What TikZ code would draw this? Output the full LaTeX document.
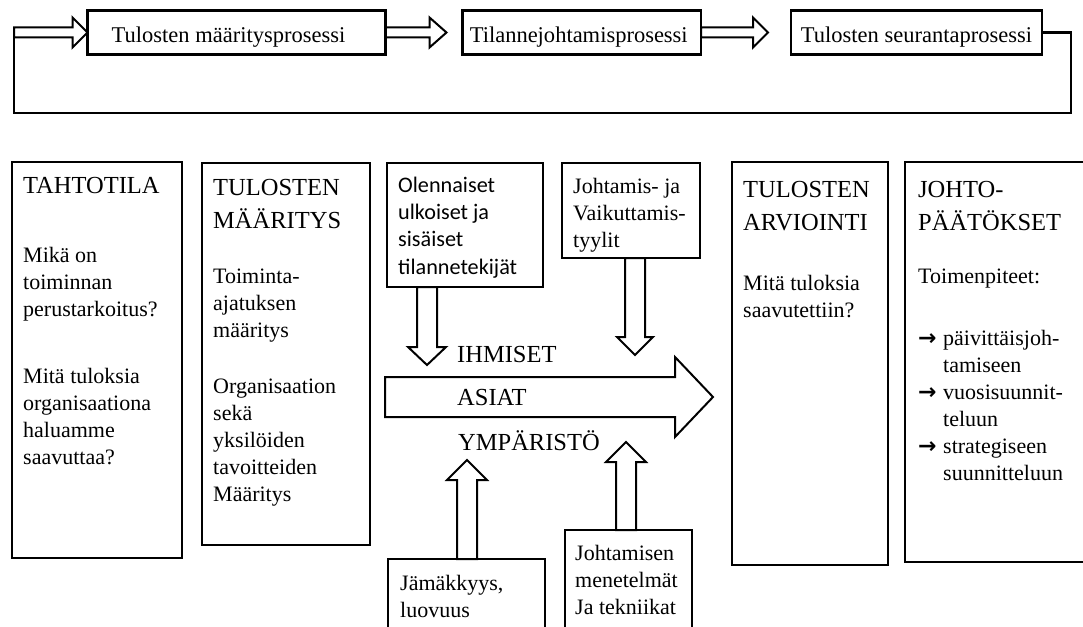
\documentclass[tikz,border=0pt]{standalone}
\usepackage{fontspec}
\setmainfont{Liberation Serif}
\newfontfamily\calib{Carlito}
\newfontfamily\arrfont{DejaVu Sans}
\usepackage{tikz}
\usetikzlibrary{positioning, calc}

\newcommand{\txtfont}{\fontsize{22}{27}\selectfont}
\newcommand{\hdfont}{\fontsize{24.5}{33.5}\selectfont}
\newcommand{\topfont}{\fontsize{22.5}{26}\selectfont}
\newcommand{\olfont}{\calib\fontsize{22.2}{27.4}\selectfont}
\newcommand{\txtlines}[1]{\parbox[t]{200pt}{#1}}
\newcommand{\itm}{\makebox[25pt][l]{\arrfont\bfseries →}}

\begin{document}
\begin{tikzpicture}[x=1pt, y=-1pt,
  box/.style={draw, line width=2.6pt, outer sep=0pt, inner sep=0pt, anchor=north west},
  pbox/.style={box, minimum height=43.6, font=\topfont, text height=22pt, text depth=3pt},
  txt/.style={anchor=base west, inner sep=0pt, font=\txtfont},
  hd/.style={txt, font=\hdfont},
  fat/.style={draw, line width=2pt},
  loopline/.style={draw, line width=2.4pt},
  fatright/.style args={#1/#2/#3}{to path={
    ([shift={(0,-#1)}]\tikztostart) -- ([shift={(-#3,-#1)}]\tikztotarget)
    -- ([shift={(-#3,-#2)}]\tikztotarget) -- (\tikztotarget)
    -- ([shift={(-#3,#2)}]\tikztotarget) -- ([shift={(-#3,#1)}]\tikztotarget)
    -- ([shift={(0,#1)}]\tikztostart) -- cycle}},
  fatdown/.style args={#1/#2/#3}{to path={
    ([shift={(-#1,0)}]\tikztostart) -- ([shift={(-#1,-#3)}]\tikztotarget)
    -- ([shift={(-#2,-#3)}]\tikztotarget) -- (\tikztotarget)
    -- ([shift={(#2,-#3)}]\tikztotarget) -- ([shift={(#1,-#3)}]\tikztotarget)
    -- ([shift={(#1,0)}]\tikztostart) -- cycle}},
  fatup/.style args={#1/#2/#3}{to path={
    ([shift={(-#1,0)}]\tikztostart) -- ([shift={(-#1,#3)}]\tikztotarget)
    -- ([shift={(-#2,#3)}]\tikztotarget) -- (\tikztotarget)
    -- ([shift={(#2,#3)}]\tikztotarget) -- ([shift={(#1,#3)}]\tikztotarget)
    -- ([shift={(#1,0)}]\tikztostart) -- cycle}}]
\useasboundingbox (0,0) rectangle (1083,626);
\clip (0,0) rectangle (1083,626);

% process row
\node[pbox, minimum width=298] (maar) at (87.5,10.7) {Tulosten määritysprosessi\hspace*{16pt}};
\node[pbox, minimum width=238.5] (tila) at (462.5,10.7) {Tilannejohtamisprosessi\hspace*{6pt}};
\node[pbox, minimum width=251] (seur) at (791,10.7) {Tulosten seurantaprosessi};

\coordinate (g1) at ([xshift=-16pt]tila.west);
\coordinate (g2) at ([xshift=-23pt]seur.west);
\coordinate (loopr) at (1071,113);
\coordinate (loopl) at (14,113);
\coordinate (loopend) at (loopl |- maar.west);

\draw[loopline] (seur.east) -| (loopr) -- (loopl) -- (loopend);
\draw[fat] (loopend) to[fatright=5/15/15] (maar.west);
\draw[fat] (maar.east) to[fatright=5/15/17] (g1);
\draw[fat] (tila.east) to[fatright=5/15/15] (g2);

% columns
\node[box, minimum width=170, minimum height=396] (tahto) at (12,162) {};
\node[box, minimum width=168, minimum height=382] (tmaar) at (202,163) {};
\node[box, minimum width=156, minimum height=124] (olen) at (387,163) {};
\node[box, minimum width=138, minimum height=95] (johvai) at (562,163) {};
\node[box, minimum width=156, minimum height=403] (arvi) at (732,162) {};
\node[box, minimum width=210, minimum height=400] (johto) at (905,162) {};
\node[box, minimum width=157, minimum height=90] (jama) at (388,559) {};
\node[box, minimum width=127, minimum height=120] (johmen) at (565,530) {};

\node[hd] (tahtoh) at (23,193) {TAHTOTILA};
\node[txt] (tahto1) at (23,262) {\txtlines{Mikä on\\toiminnan\\perustarkoitus?}};
\node[txt] (tahto2) at (23,383) {\txtlines{Mitä tuloksia\\organisaationa\\haluamme\\saavuttaa?}};

\node[hd] (tmaarh) at (213,195) {\txtlines{TULOSTEN\\MÄÄRITYS}};
\node[txt] (tmaar1) at (213,283) {\txtlines{Toiminta-\\ajatuksen\\määritys}};
\node[txt] (tmaar2) at (213,393) {\txtlines{Organisaation\\sekä\\yksilöiden\\tavoitteiden\\Määritys}};

\node[txt, font=\olfont] (olent) at (398,192) {\txtlines{Olennaiset\\ulkoiset ja\\sisäiset\\tilannetekijät}};
\node[txt] (johvait) at (573,193) {\txtlines{Johtamis- ja\\Vaikuttamis-\\tyylit}};
\node[txt] (jamat) at (400,590) {\txtlines{Jämäkkyys,\\luovuus}};
\node[txt] (johment) at (575,560) {\txtlines{Johtamisen\\menetelmät\\Ja tekniikat}};

\node[hd] (ihm) at (457,362) {IHMISET};
\node[hd] (asi) at (457,405) {ASIAT};
\node[hd] (ymp) at (458,450) {YMPÄRISTÖ};

\node[hd] (arvih) at (743,197) {\txtlines{TULOSTEN\\ARVIOINTI}};
\node[txt] (arvi1) at (743,290) {\txtlines{Mitä tuloksia\\saavutettiin?}};

\node[hd] (johtoh) at (918,197) {\txtlines{JOHTO-\\PÄÄTÖKSET}};
\node[txt] (johto1) at (918,283) {Toimenpiteet:};
\node[txt] (johto2) at (918,345) {\txtlines{\itm päivittäisjoh-\\\hspace*{25pt}tamiseen\\\itm vuosisuunnit-\\\hspace*{25pt}teluun\\\itm strategiseen\\\hspace*{25pt}suunnitteluun}};

% block arrows
\coordinate (bigs) at (385,397);
\coordinate (bigt) at (713,397);
\draw[fat] (bigs) to[fatright=20/40/38] (bigt);

\coordinate (d1) at (427,365);
\coordinate (d1s) at (olen.south -| d1);
\draw[fat] (d1s) to[fatdown=10/19/18] (d1);
\coordinate (d2) at (635,355);
\coordinate (d2s) at (johvai.south -| d2);
\draw[fat] (d2s) to[fatdown=10/18/18] (d2);

\coordinate (u1) at (467,460);
\coordinate (u1s) at (jama.north -| u1);
\draw[fat] (u1s) to[fatup=10/20/20] (u1);
\coordinate (u2) at (626,442);
\coordinate (u2s) at (johmen.north -| u2);
\draw[fat] (u2s) to[fatup=10/20/20] (u2);
\end{tikzpicture}
\end{document}
